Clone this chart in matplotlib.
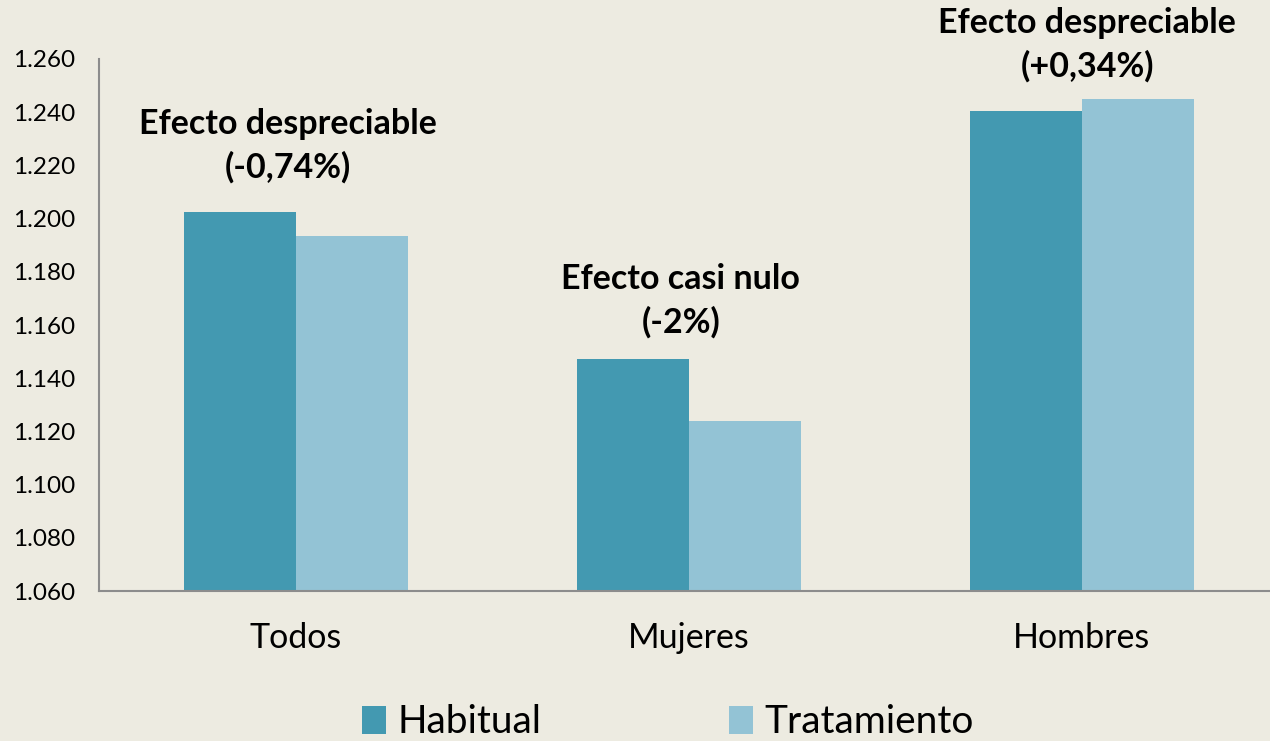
import matplotlib
matplotlib.use("Agg")
import matplotlib.pyplot as plt
import numpy as np

BG = "#EDEBE1"
C_HAB = "#4399B1"
C_TRA = "#93C3D5"
SPINE = "#8C8C8C"

categories = ["Todos", "Mujeres", "Hombres"]
habitual = [1.2025, 1.1472, 1.2405]
tratamiento = [1.1935, 1.1239, 1.2450]
notes = ["Efecto despreciable\n(-0,74%)", "Efecto casi nulo\n(-2%)",
         "Efecto despreciable\n(+0,34%)"]
note_y = [1.2273, 1.1690, 1.2653]
note_dx = [-0.02, -0.02, 0.015]
yticks = [1.06, 1.08, 1.10, 1.12, 1.14, 1.16, 1.18, 1.20, 1.22, 1.24, 1.26]

plt.rcParams["font.family"] = ["Lato", "DejaVu Sans"]

fig = plt.figure(figsize=(12.7, 7.41), dpi=100)
fig.patch.set_facecolor(BG)
ax = fig.add_axes([0.078, 0.2024, 0.9283, 0.718])
ax.set_facecolor(BG)

x = np.arange(len(categories))
w = 0.285
ax.bar(x - w / 2, habitual, w, color=C_HAB, label="Habitual")
ax.bar(x + w / 2, tratamiento, w, color=C_TRA, label="Tratamiento")

for i, (txt, yy) in enumerate(zip(notes, note_y)):
    ax.text(i + note_dx[i], yy, txt, ha="center", va="center",
            fontsize=24.5, fontweight="bold", linespacing=1.4, clip_on=False)

ax.set_xlim(-0.5, 2.5)
ax.set_ylim(1.06, 1.26)
ax.set_yticks(yticks)
ax.set_yticklabels([f"{v:.3f}" for v in yticks], fontsize=17.5)
ax.set_xticks(x)
ax.set_xticklabels(categories, fontsize=24.5)
ax.tick_params(axis="x", length=0, pad=22)
ax.tick_params(axis="y", length=0, pad=17)
for s in ("top", "right"):
    ax.spines[s].set_visible(False)
for s in ("bottom", "left"):
    ax.spines[s].set_color(SPINE)
    ax.spines[s].set_linewidth(1.5)

fig.legend(loc="center", bbox_to_anchor=(0.526, 0.025), ncol=2, frameon=False,
           fontsize=28, handlelength=0.62, handleheight=0.75, handletextpad=0.3,
           columnspacing=4.8)

fig.savefig("out.png", dpi=100, facecolor=BG)
